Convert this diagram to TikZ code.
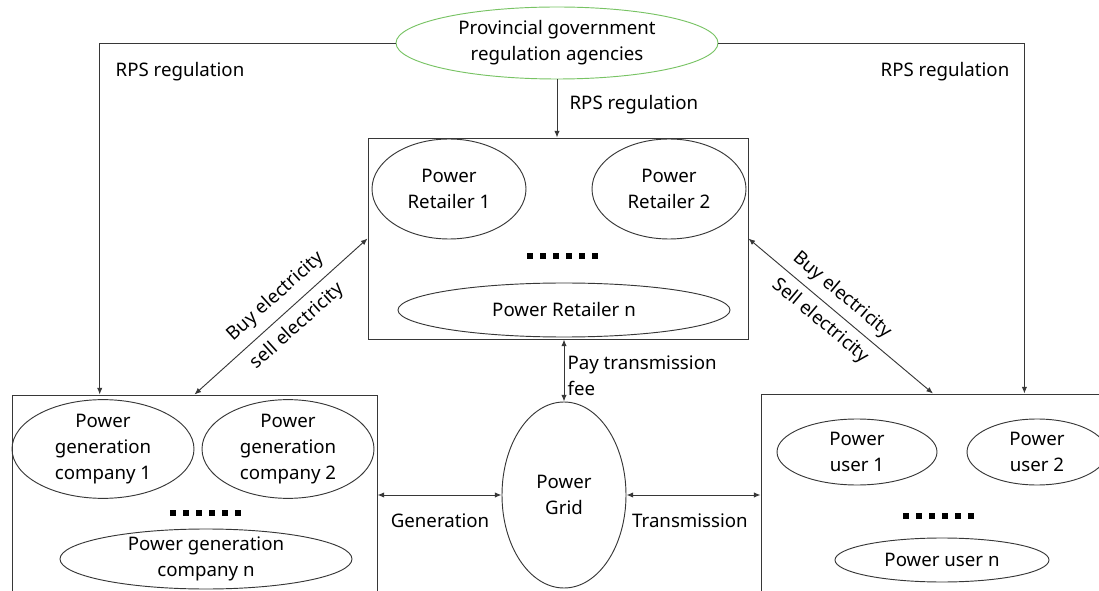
\documentclass[tikz,border=0pt]{standalone}
\usepackage{fontspec}
\setmainfont{Noto Sans}
\usetikzlibrary{shapes.geometric,arrows.meta,calc}
\definecolor{gline}{RGB}{55,55,55}
\definecolor{ggreen}{RGB}{120,195,100}
\begin{document}
\begin{tikzpicture}[x=0.75pt,y=-0.75pt,
  font=\fontsize{14}{19.5}\selectfont,
  line/.style={draw=gline, line width=0.7pt},
  tip/.tip={Latex[length=5pt,width=4pt]},
  arr/.style={line, -tip},
  darr/.style={line, tip-tip},
  ell/.style 2 args={ellipse, line, minimum width=#1*0.75pt, minimum height=#2*0.75pt, inner sep=0pt, align=center},
  box/.style 2 args={rectangle, line, minimum width=#1*0.75pt, minimum height=#2*0.75pt, inner sep=0pt},
  lbl/.style={inner sep=1pt}
]
\useasboundingbox (0,0) rectangle (1099,591);
\clip (0,0) rectangle (1099,591);

% containers
\node[box={380}{201}] (retbox) at (558,238.5) {};
\node[box={365}{205}] (genbox) at (194.5,497.5) {};
\node[box={344}{206}] (userbox) at (933,497) {};

% government
\node[ell={322}{72}, draw=ggreen] (gov) at (557,43) {Provincial government\\regulation agencies};

% retailers
\node[ell={154}{100}] (r1) at (449,189) {Power\\Retailer 1};
\node[ell={154}{100}] (r2) at (669,189) {Power\\Retailer 2};
\node[ell={332}{54}] (rn) at (564,310) {Power Retailer n};

% generation companies
\node[ell={182}{92}] (g1) at (103,449) {Power\\generation\\company 1};
\node[ell={172}{92}] (g2) at (288,449) {Power\\generation\\company 2};
\node[ell={292}{60}, inner ysep=-4pt] (gn) at (206,559) {Power generation\\company n};

% users
\node[ell={160}{66}] (u1) at (857,452) {Power\\user 1};
\node[ell={140}{66}] (u2) at (1037,452) {Power\\user 2};
\node[ell={214}{44}] (un) at (942,560) {Power user n};

% grid
\node[ell={124}{186}] (grid) at (564,495) {Power\\Grid};

% dots
\foreach \i in {0,...,5} {
  \fill[black] (527+\i*13,253) rectangle ++(6,6);
  \fill[black] (170+\i*13,510) rectangle ++(6,6);
  \fill[black] (903+\i*13,513) rectangle ++(6,6);
}

% connectors
\coordinate (gl) at ($(genbox.north west)!0.241!(genbox.north east)$);
\coordinate (ur) at ($(userbox.north west)!0.765!(userbox.north east)$);
\draw[arr] (gov.west) -| (gl);
\draw[arr] (gov.east) -| (ur);
\draw[arr] (gov.south) -- (gov.south |- retbox.north);

\node[lbl] (rpsl) at (180,72) {RPS regulation};
\node[lbl] (rpsr) at (945,72) {RPS regulation};
\node[lbl, anchor=west] (rpsc) at (568,105) {RPS regulation};

\draw[darr] (retbox.west) -- (genbox.north)
  node[pos=0.46, sloped, above=3pt] (buyl) {Buy electricity}
  node[pos=0.475, sloped, below=3pt] (selll) {sell electricity};
\draw[darr] (retbox.east) -- (userbox.north)
  node[pos=0.45, sloped, above=2pt] (buyr) {Buy electricity}
  node[pos=0.45, sloped, below=2pt] (sellr) {Sell electricity};

\draw[darr] (grid.north) -- (grid.north |- retbox.south);
\node[lbl, anchor=north west, align=left] (fee) at (566,354) {Pay transmission\\fee};

\draw[darr] (grid.west) -- (grid.west -| genbox.east);
\draw[darr] (grid.east) -- (grid.east -| userbox.west);
\node[lbl] (genl) at (440,521) {Generation};
\node[lbl] (trl) at (690,521) {Transmission};
\end{tikzpicture}
\end{document}
